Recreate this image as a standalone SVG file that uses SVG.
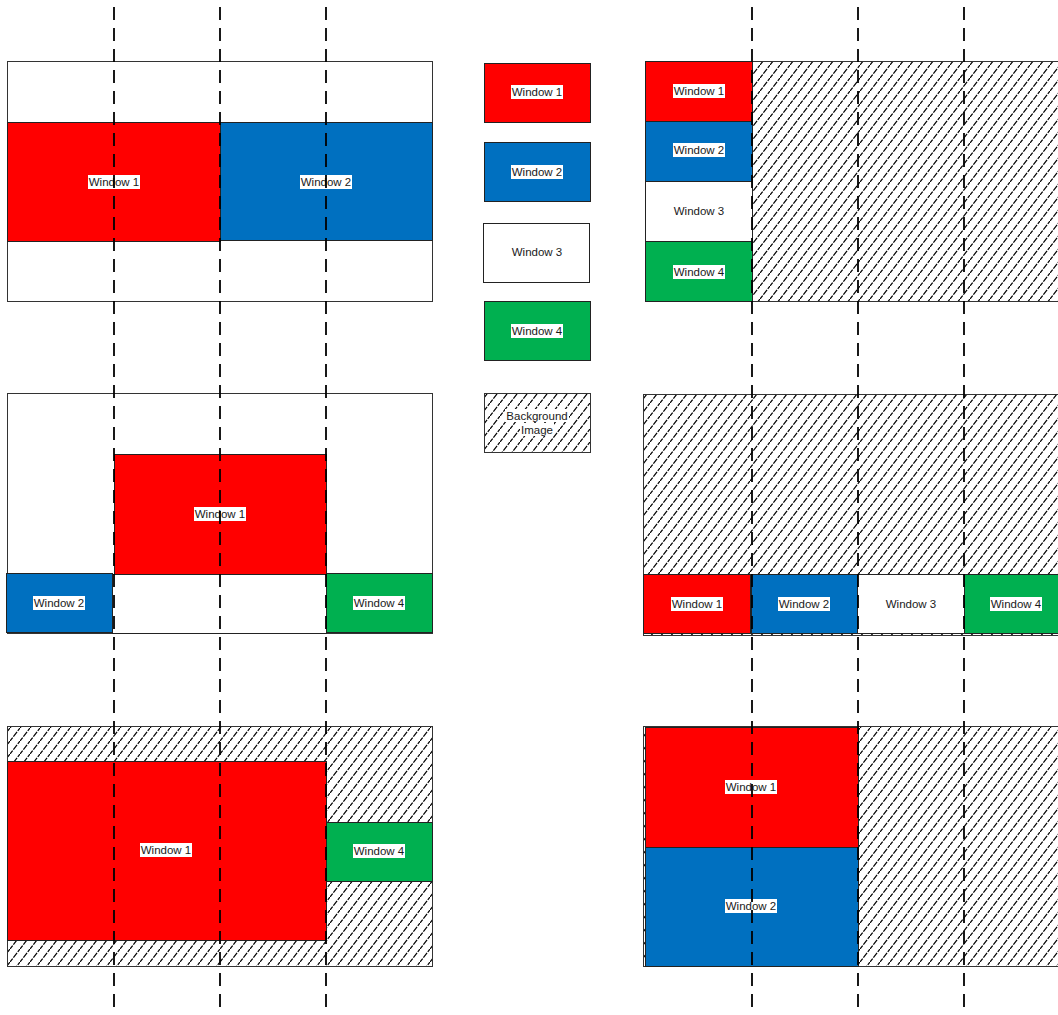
<svg xmlns="http://www.w3.org/2000/svg" width="1058" height="1015" viewBox="0 0 1058 1015">
<defs>
<pattern id="hatch" patternUnits="userSpaceOnUse" x="0" y="0" width="10" height="13">
<rect width="10" height="13" fill="#fff"/>
<path d="M-1,14.3 L11,-1.3" stroke="#000" stroke-width="1.2" stroke-dasharray="6 1.2"/>
</pattern>
<style>
.frame{fill:#fff;stroke:#333;stroke-width:1}
.hatch{fill:url(#hatch);stroke:#333;stroke-width:1}
.w1{fill:#ff0000;stroke:#222;stroke-width:1}
.w2{fill:#0070c0;stroke:#222;stroke-width:1}
.w3{fill:#fff;stroke:#222;stroke-width:1}
.w4{fill:#00b050;stroke:#222;stroke-width:1}
.lb{fill:#fff}
.t{font-family:"Liberation Sans",Arial,sans-serif;font-size:11.5px;fill:#1a1a1a;text-anchor:middle}
.guide{stroke:#000;stroke-width:1.8;stroke-dasharray:13 8;fill:none}
</style>
</defs>

<!-- Top-left panel -->
<g id="panel-top-left">
<rect class="frame" x="7.5" y="61.5" width="425" height="240"/>
<g id="tl-window1"><rect class="w1" x="7.5" y="122.5" width="213" height="119"/><rect class="lb" x="88" y="175" width="52" height="14"/><text class="t" x="114" y="186">Window 1</text></g>
<g id="tl-window2"><rect class="w2" x="220.5" y="122.5" width="212" height="118"/><rect class="lb" x="300" y="175" width="52" height="14"/><text class="t" x="326" y="186">Window 2</text></g>
</g>

<!-- Legend -->
<g id="legend-window1"><rect class="w1" x="484.5" y="63.5" width="106" height="59"/><rect class="lb" x="511" y="85" width="52" height="14"/><text class="t" x="537" y="96">Window 1</text></g>
<g id="legend-window2"><rect class="w2" x="484.5" y="142.5" width="106" height="59"/><rect class="lb" x="511" y="165" width="52" height="14"/><text class="t" x="537" y="176">Window 2</text></g>
<g id="legend-window3"><rect class="w3" x="483.5" y="223.5" width="106" height="59"/><text class="t" x="537" y="256">Window 3</text></g>
<g id="legend-window4"><rect class="w4" x="484.5" y="301.5" width="106" height="59"/><rect class="lb" x="511" y="324" width="52" height="14"/><text class="t" x="537" y="335">Window 4</text></g>
<g id="legend-background"><rect class="hatch" x="484.5" y="393.5" width="106" height="59"/><rect class="lb" x="505" y="409" width="64" height="13"/><rect class="lb" x="520" y="423" width="34" height="13"/><text class="t" x="537" y="420">Background</text><text class="t" x="537" y="434">Image</text></g>

<!-- Top-right panel -->
<g id="panel-top-right">
<rect class="hatch" x="645.5" y="61.5" width="420" height="240"/>
<g id="tr-window1"><rect class="w1" x="645.5" y="61.5" width="107" height="60"/><rect class="lb" x="673" y="84" width="52" height="14"/><text class="t" x="699" y="95">Window 1</text></g>
<g id="tr-window2"><rect class="w2" x="645.5" y="121.5" width="107" height="60"/><rect class="lb" x="673" y="143" width="52" height="14"/><text class="t" x="699" y="154">Window 2</text></g>
<g id="tr-window3"><rect class="w3" x="645.5" y="181.5" width="107" height="60"/><text class="t" x="699" y="215">Window 3</text></g>
<g id="tr-window4"><rect class="w4" x="645.5" y="241.5" width="107" height="60"/><rect class="lb" x="673" y="265" width="52" height="14"/><text class="t" x="699" y="276">Window 4</text></g>
</g>

<!-- Middle-left panel -->
<g id="panel-mid-left">
<rect class="frame" x="7.5" y="393.5" width="425" height="240"/>
<g id="ml-window1"><rect class="w1" x="114.5" y="454.5" width="212" height="120"/><rect class="lb" x="194" y="507" width="52" height="14"/><text class="t" x="220" y="518">Window 1</text></g>
<g id="ml-window2"><rect class="w2" x="6.5" y="573.5" width="106" height="59"/><rect class="lb" x="33" y="596" width="52" height="14"/><text class="t" x="59" y="607">Window 2</text></g>
<g id="ml-window3"><rect class="w3" x="112.5" y="574.5" width="214" height="59"/></g>
<g id="ml-window4"><rect class="w4" x="326.5" y="573.5" width="106" height="59"/><rect class="lb" x="353" y="596" width="52" height="14"/><text class="t" x="379" y="607">Window 4</text></g>
</g>

<!-- Middle-right panel -->
<g id="panel-mid-right">
<rect class="hatch" x="643.5" y="394.5" width="420" height="241"/>
<g id="mr-window1"><rect class="w1" x="643.5" y="574.5" width="107" height="59"/><rect class="lb" x="671" y="597" width="52" height="14"/><text class="t" x="697" y="608">Window 1</text></g>
<g id="mr-window2"><rect class="w2" x="751.5" y="574.5" width="106" height="59"/><rect class="lb" x="778" y="597" width="52" height="14"/><text class="t" x="804" y="608">Window 2</text></g>
<g id="mr-window3"><rect class="w3" x="857.5" y="574.5" width="107" height="59"/><text class="t" x="911" y="608">Window 3</text></g>
<g id="mr-window4"><rect class="w4" x="964.5" y="574.5" width="100" height="59"/><rect class="lb" x="990" y="597" width="52" height="14"/><text class="t" x="1016" y="608">Window 4</text></g>
</g>

<!-- Bottom-left panel -->
<g id="panel-bottom-left">
<rect class="hatch" x="7.5" y="726.5" width="425" height="240"/>
<g id="bl-window1"><rect class="w1" x="7.5" y="761.5" width="319" height="179"/><rect class="lb" x="140" y="843" width="52" height="14"/><text class="t" x="166" y="854">Window 1</text></g>
<g id="bl-window4"><rect class="w4" x="326.5" y="822.5" width="106" height="59"/><rect class="lb" x="353" y="844" width="52" height="14"/><text class="t" x="379" y="855">Window 4</text></g>
</g>

<!-- Bottom-right panel -->
<g id="panel-bottom-right">
<rect class="hatch" x="643.5" y="726.5" width="420" height="240"/>
<g id="br-window1"><rect class="w1" x="645.5" y="727.5" width="213" height="120"/><rect class="lb" x="725" y="780" width="52" height="14"/><text class="t" x="751" y="791">Window 1</text></g>
<g id="br-window2"><rect class="w2" x="645.5" y="847.5" width="213" height="119"/><rect class="lb" x="725" y="899" width="52" height="14"/><text class="t" x="751" y="910">Window 2</text></g>
</g>

<!-- Guide lines -->
<g id="connectors">
<line class="guide" x1="114" y1="7" x2="114" y2="1015"/>
<line class="guide" x1="220" y1="7" x2="220" y2="1015"/>
<line class="guide" x1="326" y1="7" x2="326" y2="1015"/>
<line class="guide" x1="752" y1="7" x2="752" y2="1015"/>
<line class="guide" x1="858" y1="7" x2="858" y2="1015"/>
<line class="guide" x1="964" y1="7" x2="964" y2="1015"/>
</g>
</svg>
